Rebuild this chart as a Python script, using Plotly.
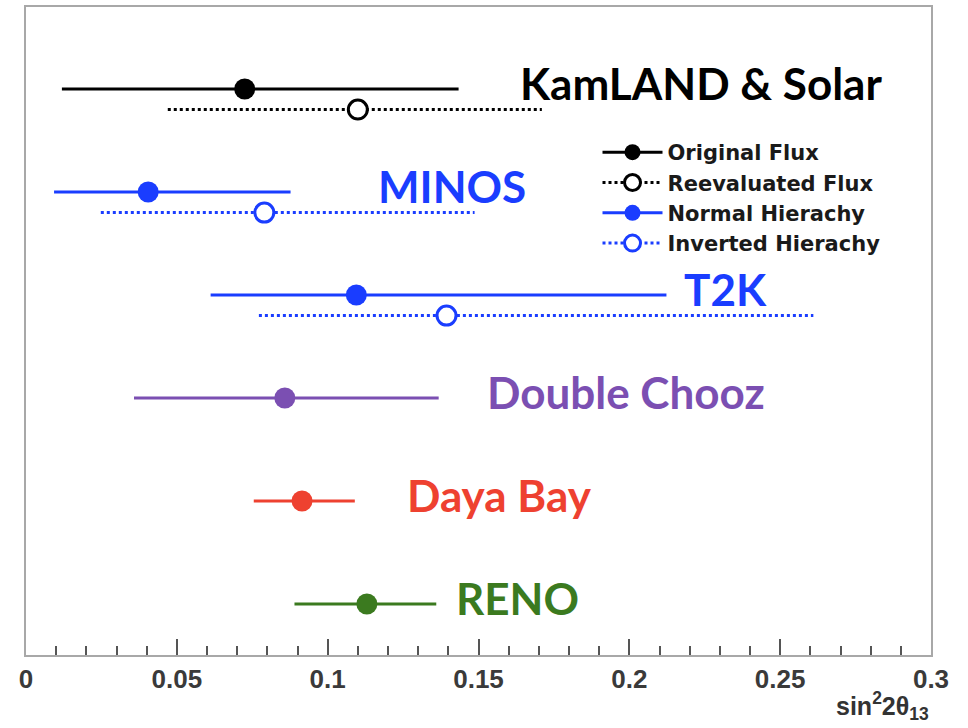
import plotly.graph_objects as go

# sin^2(2 theta_13) measurements: best fit and 1-sigma range
experiments = ["KamLAND & Solar", "MINOS", "T2K", "Double Chooz", "Daya Bay", "RENO"]
exp_colors = ["#000000", "#1a3dff", "#1a3dff", "#7b4fb2", "#ee4130", "#3b7a1f"]

# first (filled) point of each experiment: original flux / normal hierarchy / measurement
main_val = [0.0725, 0.0405, 0.1095, 0.0858, 0.0915, 0.113]
main_lo = [0.0119, 0.0093, 0.0612, 0.0358, 0.0755, 0.0890]
main_hi = [0.1434, 0.0877, 0.2123, 0.1368, 0.1090, 0.1360]

# second (open) point: reevaluated flux / inverted hierarchy
alt_exp = ["KamLAND & Solar", "MINOS", "T2K"]
alt_val = [0.110, 0.0790, 0.1394]
alt_lo = [0.0470, 0.0248, 0.0772]
alt_hi = [0.1710, 0.1487, 0.2610]

legend_names = ["Original Flux", "Reevaluated Flux", "Normal Hierachy", "Inverted Hierachy"]

tick_vals = [0, 0.05, 0.1, 0.15, 0.2, 0.25, 0.3]
tick_text = ["0", "0.05", "0.1", "0.15", "0.2", "0.25", "0.3"]

label_x = [0.163, 0.1159, 0.2175, 0.152, 0.1255, 0.142]

fig = go.Figure()

row = {name: i for i, name in enumerate(experiments)}
for i, name in enumerate(experiments):
    c = exp_colors[i]
    y = row[name]
    fig.add_trace(go.Scatter(x=[main_lo[i], main_hi[i]], y=[y, y], mode="lines",
                             line=dict(color=c, width=3), showlegend=False, hoverinfo="skip"))
    fig.add_trace(go.Scatter(x=[main_val[i]], y=[y], mode="markers",
                             marker=dict(color=c, size=21, line=dict(width=0)),
                             showlegend=False))
    if name in alt_exp:
        j = alt_exp.index(name)
        fig.add_trace(go.Scatter(x=[alt_lo[j], alt_hi[j]], y=[y + 0.2, y + 0.2], mode="lines",
                                 line=dict(color=c, width=3, dash="3px,3px"),
                                 showlegend=False, hoverinfo="skip"))
        fig.add_trace(go.Scatter(x=[alt_val[j]], y=[y + 0.2], mode="markers",
                                 marker=dict(color="white", size=19, line=dict(color=c, width=3)),
                                 showlegend=False))

# legend entries
leg_style = [("#000000", False), ("#000000", True), ("#1a3dff", False), ("#1a3dff", True)]
for name, (c, hollow) in zip(legend_names, leg_style):
    fig.add_trace(go.Scatter(
        x=[None], y=[None], mode="lines+markers", name=name,
        line=dict(color=c, width=3, dash="3px,3px" if hollow else "solid"),
        marker=dict(color="white" if hollow else c, size=17 if hollow else 19,
                    line=dict(color=c, width=3 if hollow else 0))))

for i, name in enumerate(experiments):
    fig.add_annotation(x=label_x[i], y=row[name] - 0.06, text=name, showarrow=False,
                       xanchor="left", yanchor="middle",
                       font=dict(family="Lato", size=44, color=exp_colors[i], weight="bold"))

fig.add_annotation(xref="paper", yref="paper", x=1.0, y=-0.11, xanchor="right", yanchor="bottom",
                   text="sin<sup>2</sup>2θ<sub>13</sub>", showarrow=False,
                   font=dict(family="Liberation Sans", size=25, color="#333333", weight="bold"))

fig.update_layout(
    width=968, height=728,
    margin=dict(l=26, r=37, t=7, b=73),
    plot_bgcolor="white", paper_bgcolor="white",
    legend=dict(x=0.6315, y=0.807, xanchor="left", yanchor="top", bgcolor="rgba(0,0,0,0)",
                itemwidth=60, tracegroupgap=0,
                font=dict(family="DejaVu Sans", size=21, color="#1a1a1a", weight="bold")),
)
fig.update_xaxes(range=[0, 0.3], tickvals=tick_vals, ticktext=tick_text, automargin=False,
                 ticks="inside", ticklen=16,
                 tickwidth=1.5, tickcolor="#555555", showgrid=False, zeroline=False,
                 showline=True, mirror=True, linecolor="#a8a8a8", linewidth=2,
                 minor=dict(dtick=0.01, ticks="inside", ticklen=9, tickcolor="#555555", tickwidth=1.5),
                 tickfont=dict(family="Liberation Sans", size=26, color="#3a3a3a", weight="bold"))
fig.update_yaxes(range=[5.495, -0.796], showticklabels=False, ticks="", showgrid=False,
                 automargin=False, zeroline=False, showline=True, mirror=True,
                 linecolor="#a8a8a8", linewidth=2)

# drop the browser's default page margin so the figure sits at the window corner
fig.write_html("out.html", config={"displayModeBar": False},
               post_script="document.body.style.margin='0';")
